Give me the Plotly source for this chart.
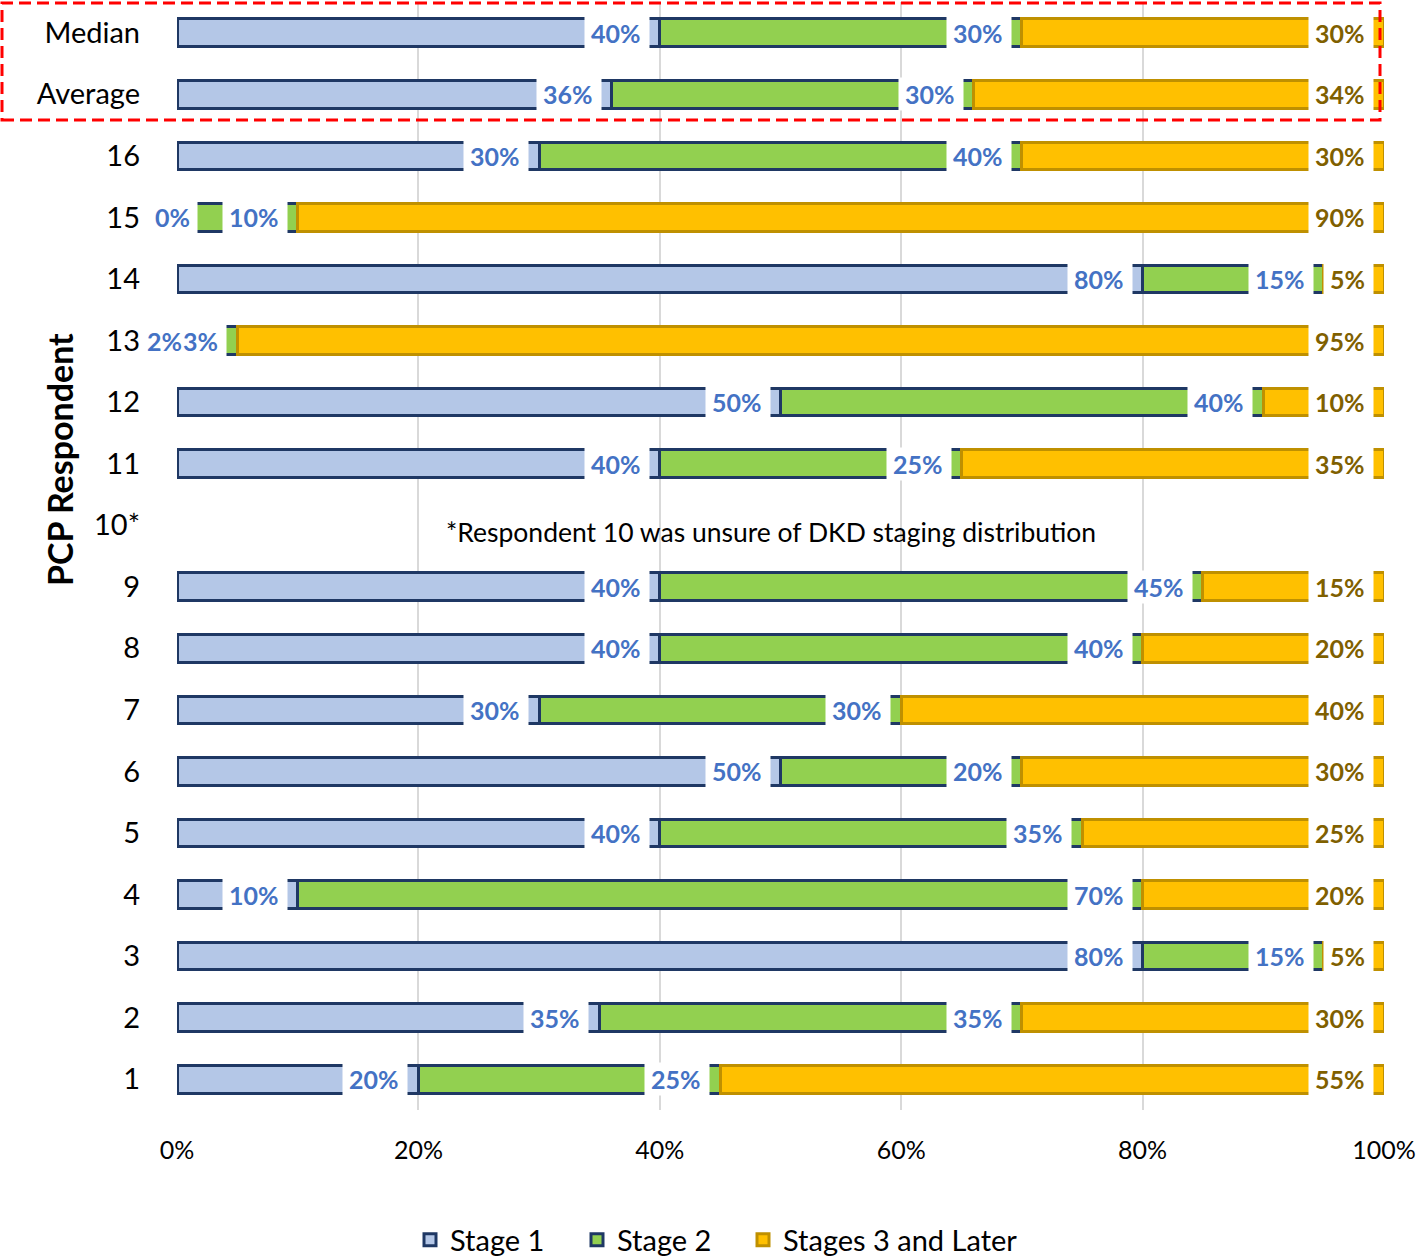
import plotly.graph_objects as go

# ---------------- data ----------------
rows = ["1", "2", "3", "4", "5", "6", "7", "8", "9", "10*", "11", "12", "13",
        "14", "15", "16", "Average", "Median"]
stage1 = [20, 35, 80, 10, 40, 50, 30, 40, 40, None, 40, 50, 2, 80, 0, 30, 36, 40]
stage2 = [25, 35, 15, 70, 35, 20, 30, 40, 45, None, 25, 40, 3, 15, 10, 40, 30, 30]
stage3 = [55, 30, 5, 20, 25, 30, 40, 20, 15, None, 35, 10, 95, 5, 90, 30, 34, 30]
series_names = ["Stage 1", "Stage 2", "Stages 3 and Later"]
x_ticks = [0, 20, 40, 60, 80, 100]
x_tick_text = ["0%", "20%", "40%", "60%", "80%", "100%"]
note_row = "10*"
note_text = "*Respondent 10 was unsure of DKD staging distribution"
y_title = "PCP Respondent"

# ---------------- styles ----------------
FONT = "Lato"
fills = ["#B4C7E7", "#92D050", "#FFC000"]
lines = ["#1F3864", "#1F3864", "#BF9000"]
label_colors = ["#4472C4", "#4472C4", "#7F6000"]
legend_left_px = [410, 577, 743]

W, H = 1419, 1256
ML, MR, MT, MB = 177, 35, 2, 146
pw = W - ML - MR
ph = H - MT - MB


def px_x(p):
    return (p - ML) / pw


def px_y(p):
    return 1 - (p - MT) / ph


fig = go.Figure()
all_series = [stage1, stage2, stage3]
legend_ids = ["legend", "legend2", "legend3"]
for name, vals, fc, lc, lg in zip(series_names, all_series, fills, lines, legend_ids):
    fig.add_trace(go.Bar(
        name=name, y=rows, x=vals, orientation="h",
        marker=dict(color=fc, line=dict(color=lc, width=3)),
        hoverinfo="skip", legend=lg, showlegend=True,
    ))

# data labels: white boxes first, then texts on top
PAD = 7
LABEL_FONT = dict(family=FONT, size=25, weight="bold")
boxes, texts = [], []
for i, r in enumerate(rows):
    if stage1[i] is None:
        continue
    cum = 0
    for k, vals in enumerate(all_series):
        v = vals[i]
        cum += v
        lab = f"{v}%"
        if v == 0:
            anchor, sh_box, sh_txt = "center", -5, -5
        else:
            anchor, sh_box, sh_txt = "right", -10, -10 - PAD
        boxes.append(dict(
            x=cum, y=i, xref="x", yref="y", text=lab, showarrow=False,
            xanchor=anchor, yanchor="middle", xshift=sh_box,
            bgcolor="white", borderpad=PAD, height=18,
            font=dict(color="white", **LABEL_FONT),
        ))
        texts.append(dict(
            x=cum, y=i, xref="x", yref="y", text=lab, showarrow=False,
            xanchor=anchor, yanchor="middle", xshift=sh_txt,
            font=dict(color=label_colors[k], **LABEL_FONT),
        ))

annotations = boxes + texts
annotations.append(dict(
    x=px_x(771), y=rows.index(note_row), xref="paper", yref="y", text=note_text,
    showarrow=False, xanchor="center", yanchor="middle", yshift=-7,
    font=dict(family=FONT, size=26.5, color="black"),
))
annotations.append(dict(
    x=px_x(59), y=px_y(460), xref="paper", yref="paper", text="<b>" + y_title + "</b>",
    showarrow=False, textangle=-90, xanchor="center", yanchor="middle",
    font=dict(family=FONT, size=34, color="black"),
))

legend_common = dict(orientation="h", xanchor="left", yanchor="middle",
                     y=px_y(1240), bgcolor="rgba(0,0,0,0)",
                     font=dict(family=FONT, size=29, color="black"))

fig.update_layout(
    width=W, height=H, showlegend=True,
    margin=dict(l=ML, r=MR, t=MT, b=MB, autoexpand=False),
    barmode="stack", bargap=0.55,
    plot_bgcolor="white", paper_bgcolor="white",
    font=dict(family=FONT, size=26, color="black"),
    xaxis=dict(range=[0, 100], tickvals=x_ticks, ticktext=x_tick_text,
               showgrid=True, gridcolor="#D9D9D9", gridwidth=2,
               zeroline=False, showline=False, ticks="",
               ticklabelstandoff=23,
               tickfont=dict(family=FONT, size=25, color="black")),
    yaxis=dict(categoryorder="array", categoryarray=rows, type="category",
               range=[-0.5, len(rows) - 0.5], showgrid=False, zeroline=False,
               ticks="", ticklabelstandoff=36,
               tickfont=dict(family=FONT, size=29, color="black")),
    legend=dict(x=px_x(legend_left_px[0]), **legend_common),
    legend2=dict(x=px_x(legend_left_px[1]), **legend_common),
    legend3=dict(x=px_x(legend_left_px[2]), **legend_common),
    annotations=annotations,
    shapes=[dict(type="rect", xref="paper", yref="paper",
                 x0=px_x(2), x1=px_x(1380), y0=px_y(120), y1=px_y(3),
                 line=dict(color="#FF0000", width=3, dash="12px,6px"),
                 fillcolor="rgba(0,0,0,0)", layer="above")],
)

fig.write_html("out.html", config={"displayModeBar": False},
               post_script="document.body.style.margin='0';")
